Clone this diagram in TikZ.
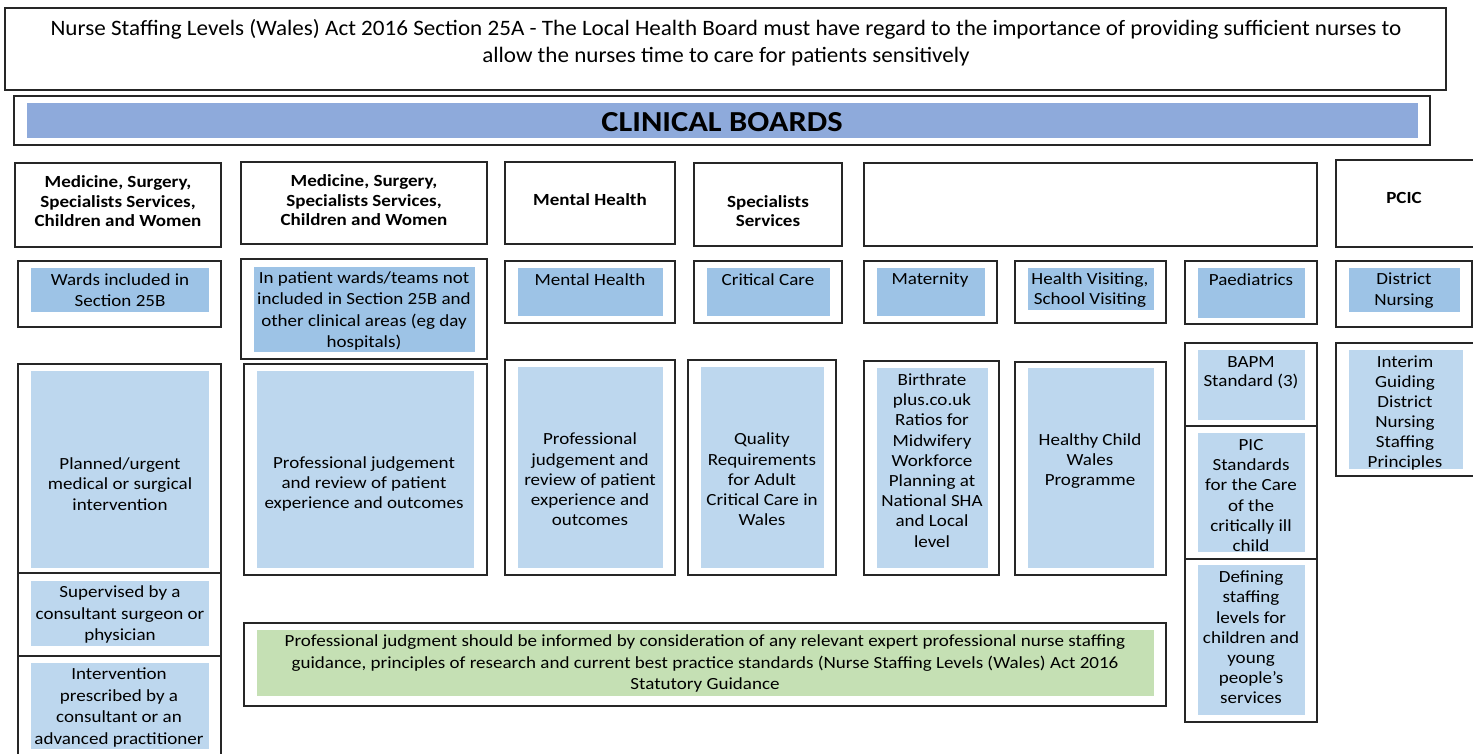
\documentclass[tikz,border=0pt]{standalone}
\usepackage{fontspec}
\setmainfont{Carlito}[FakeStretch=1.12]
\newfontfamily\actfont{Carlito}[FakeStretch=1.05]
\usetikzlibrary{fit}

\definecolor{boardblue}{HTML}{8EAADB}
\definecolor{areablue}{HTML}{9DC3E6}
\definecolor{stdblue}{HTML}{BDD7EE}
\definecolor{guidegreen}{HTML}{C5E0B4}
\definecolor{edge}{HTML}{262626}

\tikzset{
  frame/.style={draw=edge, line width=1.3pt, fill=white, inner sep=0pt},
  areafill/.style={fill=areablue, draw=none, inner sep=0pt},
  stdfill/.style={fill=stdblue, draw=none, inner sep=0pt},
  greenfill/.style={fill=guidegreen, draw=none, inner sep=0pt},
  boardfill/.style={fill=boardblue, draw=none, inner sep=0pt},
  txt/.style={align=center, inner sep=0pt, yshift=-1pt, font=\fontsize{17}{20.2}\selectfont},
  head/.style={align=center, inner sep=0pt, yshift=-1pt, font=\fontsize{17}{19.5}\selectfont\bfseries},
}

\begin{document}
\begin{tikzpicture}[x=1pt, y=-1pt]
\clip (0,0) rectangle (1473,754);
\fill[white] (0,0) rectangle (1473,754);

% ---- title statement ----
\node[frame, fit={(5,8) (1446,90)}] (act) {};
\node[txt, font=\actfont\fontsize{22}{27}\selectfont] (act-t) at (726,41.5)
  {Nurse Staffing Levels (Wales) Act 2016 Section 25A - The Local Health Board must have regard to the importance of providing sufficient nurses to\\
   allow the nurses time to care for patients sensitively};

% ---- clinical boards banner ----
\node[frame, fit={(14,96) (1430,145)}] (cb) {};
\node[boardfill, fit={(27,103) (1418,138)}] (cb-fill) {};
\node[inner sep=0pt, font=\fontsize{29}{31}\selectfont\bfseries] (cb-t) at (722,122) {CLINICAL BOARDS};

% ---- board headings ----
\node[frame, fit={(15,163) (221,247)}] (h1) {};
\node[head] (h1-t) at (118,200.5) {Medicine, Surgery,\\Specialists Services,\\Children and Women};
\node[frame, fit={(241,162) (487,244)}] (h2) {};
\node[head] (h2-t) at (364,199.5) {Medicine, Surgery,\\Specialists Services,\\Children and Women};
\node[frame, fit={(505,162) (675,244)}] (h3) {};
\node[head] (h3-t) at (590,199) {Mental Health};
\node[frame, fit={(694,163) (842,246)}] (h4) {};
\node[head] (h4-t) at (768,210) {Specialists\\Services};
\node[frame, fit={(864,163) (1317,246)}] (h5) {};
\node[frame, fit={(1336,160) (1480,247)}] (h6) {};
\node[head] (h6-t) at (1404,197) {PCIC};

% ---- clinical areas ----
\node[frame, fit={(18,261) (221,327)}] (c1) {};
\node[areafill, fit={(31,268) (209,312)}] (c1-fill) {};
\node[txt, font=\fontsize{17}{21}\selectfont] (c1-t) at (120,289.5) {Wards included in\\Section 25B};

\node[frame, fit={(241,259) (487,359)}] (c2) {};
\node[areafill, fit={(254,267) (475,352)}] (c2-fill) {};
\node[txt, font=\fontsize{17}{21.3}\selectfont] (c2-t) at (364,310) {In patient wards/teams not\\included in Section 25B and\\other clinical areas (eg day\\hospitals)};

\node[frame, fit={(505,261) (675,323)}] (c3) {};
\node[areafill, fit={(518,268) (663,316)}] (c3-fill) {};
\node[txt] (c3-t) at (590,279) {Mental Health};

\node[frame, fit={(694,261) (842,323)}] (c4) {};
\node[areafill, fit={(707,268) (830,316)}] (c4-fill) {};
\node[txt] (c4-t) at (768,279) {Critical Care};

\node[frame, fit={(864,261) (997,323)}] (c5) {};
\node[areafill, fit={(877,268) (985,316)}] (c5-fill) {};
\node[txt] (c5-t) at (930,279) {Maternity};

\node[frame, fit={(1015,261) (1166,323)}] (c6) {};
\node[areafill, fit={(1028,268) (1154,310)}] (c6-fill) {};
\node[txt] (c6-t) at (1090,289) {Health Visiting,\\School Visiting};

\node[frame, fit={(1185,261) (1317,324)}] (c7) {};
\node[areafill, fit={(1198,268) (1305,318)}] (c7-fill) {};
\node[txt] (c7-t) at (1251,279) {Paediatrics};

\node[frame, fit={(1336,261) (1472,327)}] (c8) {};
\node[areafill, fit={(1349,268) (1460,312)}] (c8-fill) {};
\node[txt, font=\fontsize{17}{21}\selectfont] (c8-t) at (1404,289.5) {District\\Nursing};

% ---- standards: medicine / surgery stack ----
\node[frame, fit={(18,364) (221,573)}] (s1a) {};
\node[stdfill, fit={(31,371) (209,568)}] (s1a-fill) {};
\node[txt] (s1a-t) at (120,483) {Planned/urgent\\medical or surgical\\intervention};
\node[frame, fit={(18,573) (221,656)}] (s1b) {};
\node[stdfill, fit={(31,581) (209,646)}] (s1b-fill) {};
\node[txt, font=\fontsize{17}{21.5}\selectfont] (s1b-t) at (120,613.5) {Supervised by a\\consultant surgeon or\\physician};
\node[frame, fit={(18,656) (221,780)}] (s1c) {};
\node[stdfill, fit={(31,663) (209,749)}] (s1c-fill) {};
\node[txt, font=\fontsize{17}{21.7}\selectfont] (s1c-t) at (119,706.5) {Intervention\\prescribed by a\\consultant or an\\advanced practitioner};

% ---- standards: other boards ----
\node[frame, fit={(244,364) (487,575)}] (s2) {};
\node[stdfill, fit={(257,371) (474,568)}] (s2-fill) {};
\node[txt] (s2-t) at (364,483) {Professional judgement\\and review of patient\\experience and outcomes};

\node[frame, fit={(505,360) (675,575)}] (s3) {};
\node[stdfill, fit={(518,367) (663,568)}] (s3-fill) {};
\node[txt] (s3-t) at (590,478.5) {Professional\\judgement and\\review of patient\\experience and\\outcomes};

\node[frame, fit={(688,360) (836,575)}] (s4) {};
\node[stdfill, fit={(701,367) (824,568)}] (s4-fill) {};
\node[txt] (s4-t) at (762,478.5) {Quality\\Requirements\\for Adult\\Critical Care in\\Wales};

\node[frame, fit={(864,361) (999,575)}] (s5) {};
\node[stdfill, fit={(877,368) (988,568)}] (s5-fill) {};
\node[txt] (s5-t) at (932,459.5) {Birthrate\\plus.co.uk\\Ratios for\\Midwifery\\Workforce\\Planning at\\National SHA\\and Local\\level};

\node[frame, fit={(1015,362) (1166,575)}] (s6) {};
\node[stdfill, fit={(1028,368) (1154,568)}] (s6-fill) {};
\node[txt] (s6-t) at (1090,460) {Healthy Child\\Wales\\Programme};

% ---- standards: paediatrics stack ----
\node[frame, fit={(1185,343) (1317,426)}] (s7a) {};
\node[stdfill, fit={(1198,350) (1305,420)}] (s7a-fill) {};
\node[txt, font=\fontsize{17}{19}\selectfont] (s7a-t) at (1251,371.5) {BAPM\\Standard (3)};
\node[frame, fit={(1185,426) (1317,559)}] (s7b) {};
\node[stdfill, fit={(1198,433) (1305,552)}] (s7b-fill) {};
\node[txt] (s7b-t) at (1251,494.5) {PIC\\Standards\\for the Care\\of the\\critically ill\\child};
\node[frame, fit={(1185,559) (1317,722)}] (s7c) {};
\node[stdfill, fit={(1198,565) (1305,715)}] (s7c-fill) {};
\node[txt] (s7c-t) at (1251,636.5) {Defining\\staffing\\levels for\\children and\\young\\people’s\\services};

% ---- standards: PCIC ----
\node[frame, fit={(1336,343) (1480,476)}] (s8) {};
\node[stdfill, fit={(1349,350) (1463,469)}] (s8-fill) {};
\node[txt, font=\fontsize{17}{20}\selectfont] (s8-t) at (1405,412) {Interim\\Guiding\\District\\Nursing\\Staffing\\Principles};

% ---- statutory guidance ----
\node[frame, fit={(244,623) (1166,706)}] (guide) {};
\node[greenfill, fit={(257,630) (1154,696)}] (guide-fill) {};
\node[txt, font=\fontsize{17}{21.5}\selectfont] (guide-t) at (705,662.5)
  {Professional judgment should be informed by consideration of any relevant expert professional nurse staffing\\
   guidance, principles of research and current best practice standards (Nurse Staffing Levels (Wales) Act 2016\\
   Statutory Guidance};
\end{tikzpicture}
\end{document}
